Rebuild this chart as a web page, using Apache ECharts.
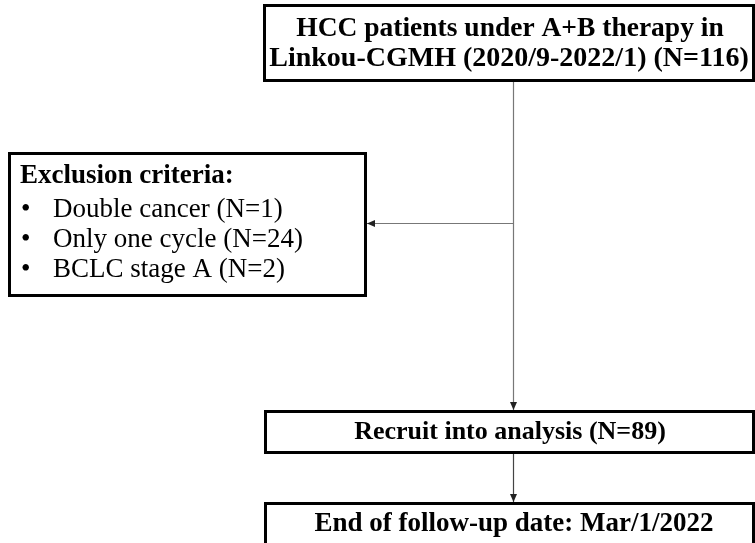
<!DOCTYPE html>
<html><head><meta charset="utf-8">
<script src="https://cdn.jsdelivr.net/npm/echarts@6/dist/echarts.min.js"></script>
<style>html,body{margin:0;padding:0;background:#fff}#c{width:755px;height:543px}</style>
</head><body><div id="c"></div>
<script>
// Flowchart content
const topLines = ["HCC patients under A+B therapy in", "Linkou-CGMH (2020/9-2022/1) (N=116)"];
const exclusionTitle = "Exclusion criteria:";
const exclusionItems = ["Double cancer (N=1)", "Only one cycle (N=24)", "BCLC stage A (N=2)"];
const recruitText = "Recruit into analysis (N=89)";
const endText = "End of follow-up date: Mar/1/2022";

const chart = echarts.init(document.getElementById('c'), null, {renderer: 'canvas'});
const serif = '"Liberation Serif", "Times New Roman", serif';
const boxStyle = {fill: '#fff', stroke: '#000', lineWidth: 3};
const lineStyle = {stroke: '#777', lineWidth: 1.2, fill: null};

function box(x, y, w, h) {
  return {type: 'rect', shape: {x: x, y: y, width: w, height: h}, style: boxStyle, z: 1};
}
function txt(t, x, y, opts) {
  return {type: 'text', x: x, y: y, z: 3, style: Object.assign({
    text: t, font: 'bold 28px ' + serif, fill: '#000', textAlign: 'center', textVerticalAlign: 'middle'
  }, opts || {})};
}
function arrowDown(x, y) {
  return {type: 'polygon', z: 2, shape: {points: [[x - 3.5, y - 8], [x + 3.5, y - 8], [x, y]]}, style: {fill: '#222'}};
}
function arrowLeft(x, y) {
  return {type: 'polygon', z: 2, shape: {points: [[x + 8, y - 3.5], [x + 8, y + 3.5], [x, y]]}, style: {fill: '#222'}};
}

const els = [];
// top box
els.push(box(264.5, 5.5, 489, 75));
els.push(txt(topLines[0], 510, 29, {font: 'bold 27.5px ' + serif}));
els.push(txt(topLines[1], 509, 59, {font: 'bold 28px ' + serif}));
// exclusion box
els.push(box(9.5, 153.5, 356, 142));
els.push(txt(exclusionTitle, 20, 176, {textAlign: 'left', font: 'bold 27px ' + serif}));
exclusionItems.forEach(function (s, i) {
  els.push(txt('\u2022', 21, 210 + i * 30, {textAlign: 'left', font: '27px ' + serif}));
  els.push(txt(s, 53, 210 + i * 30, {textAlign: 'left', font: '27px ' + serif}));
});
// recruit box
els.push(box(265.5, 411.5, 488, 41));
els.push(txt(recruitText, 510, 432, {font: 'bold 26px ' + serif}));
// end box
els.push(box(265.5, 503.5, 488, 42));
els.push(txt(endText, 514, 524, {font: 'bold 27px ' + serif}));
// connectors
els.push({type: 'polyline', z: 0, shape: {points: [[513.5, 81], [513.5, 410]]}, style: lineStyle});
els.push(arrowDown(513.5, 410));
els.push({type: 'polyline', z: 0, shape: {points: [[513.5, 223.5], [367, 223.5]]}, style: lineStyle});
els.push(arrowLeft(367, 223.5));
els.push({type: 'polyline', z: 0, shape: {points: [[513.5, 453], [513.5, 502]]}, style: {stroke: '#444', lineWidth: 1.2}});
els.push(arrowDown(513.5, 502));

chart.setOption({backgroundColor: '#fff', animation: false, graphic: {elements: els}});
</script></body></html>
